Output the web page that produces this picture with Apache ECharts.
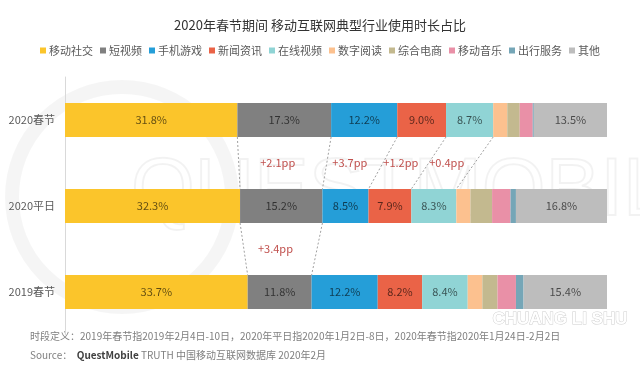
<!DOCTYPE html>
<html>
<head>
<meta charset="utf-8">
<script src="https://cdn.jsdelivr.net/npm/echarts@6/dist/echarts.min.js"></script>
<style>
html,body{margin:0;padding:0;background:#fff;}
#chart{width:640px;height:371px;}
</style>
</head>
<body>
<div id="chart"></div>
<script>
// ---- data ----
var categories = ['2020春节', '2020平日', '2019春节'];
var seriesNames = ['移动社交', '短视频', '手机游戏', '新闻资讯', '在线视频', '数字阅读', '综合电商', '移动音乐', '出行服务', '其他'];
var social   = [31.8, 32.3, 33.7];
var shortVid = [17.3, 15.2, 11.8];
var games    = [12.2, 8.5, 12.2];
var news     = [9.0, 7.9, 8.2];
var video    = [8.7, 8.3, 8.4];
var reading  = [2.6, 2.6, 2.7];
var ecommerce= [2.3, 4.0, 2.8];
var music    = [2.4, 3.4, 3.4];
var travel   = [0.2, 1.0, 1.4];
var others   = [13.5, 16.8, 15.4];
var labeled  = [true, true, true, true, true, false, false, false, false, true];
// connectors: [upper row, lower row, list of boundary indices (after n series)]
var connectors = [[0, 1, [1, 2, 3, 4, 5]], [1, 2, [1, 2]]];
// annotations: [upper row, segment index, text]
var annotations = [[0, 1, '+2.1pp'], [0, 2, '+3.7pp'], [0, 3, '+1.2pp'], [0, 4, '+0.4pp'], [1, 1, '+3.4pp']];

var colors = ['#FBC52B', '#808080', '#259ED8', '#EA6347', '#90D4D5', '#FCC18F', '#C3B98F', '#E990A7', '#75A6B7', '#BDBDBD'];
var values = [social, shortVid, games, news, video, reading, ecommerce, music, travel, others];

function cum(row, n) {
  var s = 0;
  for (var i = 0; i < n; i++) s += values[i][row];
  return s;
}

var connData = [];
connectors.forEach(function (c) {
  c[2].forEach(function (b) {
    connData.push([cum(c[0], b), cum(c[1], b), c[0]]);
  });
});
var annData = annotations.map(function (a) {
  var r = a[0], k = a[1];
  var mid = (cum(r, k) + cum(r + 1, k) + cum(r, k + 1) + cum(r + 1, k + 1)) / 4;
  return [mid, r, a[2]];
});

var series = seriesNames.map(function (name, i) {
  return {
    name: name,
    type: 'bar',
    stack: 'total',
    barWidth: 34,
    data: values[i],
    itemStyle: { color: colors[i] },
    label: {
      show: labeled[i],
      position: 'inside',
      fontSize: 11,
      color: 'rgba(0,0,0,0.62)',
      formatter: function (p) { return p.value.toFixed(1) + '%'; }
    },
    emphasis: { disabled: true }
  };
});

series.push({
  type: 'custom',
  name: 'connectors',
  data: connData,
  silent: true,
  z: 5,
  renderItem: function (params, api) {
    var row = api.value(2);
    var half = 17;
    var p1 = api.coord([api.value(0), row]);
    var p2 = api.coord([api.value(1), row + 1]);
    return {
      type: 'line',
      shape: { x1: p1[0], y1: p1[1] + half, x2: p2[0], y2: p2[1] - half },
      style: { stroke: '#a0a0a0', lineWidth: 1, lineDash: [2, 2] }
    };
  }
});
series.push({
  type: 'custom',
  name: 'annotations',
  data: annData,
  dimensions: ['x', 'row', 'text'],
  silent: true,
  z: 5,
  renderItem: function (params, api) {
    var row = api.value(1);
    var p = api.coord([api.value(0), row]);
    var band = api.size([0, 1])[1];
    return {
      type: 'text',
      x: p[0] - 5,
      y: p[1] + band / 2,
      style: {
        text: annData[params.dataIndex][2],
        fill: '#C0504D',
        fontSize: 11,
        fontFamily: 'Noto Sans CJK SC',
        align: 'center',
        verticalAlign: 'middle'
      }
    };
  }
});

var chart = echarts.init(document.getElementById('chart'));
chart.setOption({
  animation: false,
  textStyle: { fontFamily: 'Noto Sans CJK SC' },
  title: {
    text: '2020年春节期间 移动互联网典型行业使用时长占比',
    left: 'center',
    top: 14,
    textStyle: { fontSize: 13, fontWeight: 'normal', color: '#333333' }
  },
  legend: {
    data: seriesNames,
    top: 40,
    left: 'center',
    itemWidth: 6,
    itemHeight: 6,
    itemGap: 7,
    icon: 'rect',
    textStyle: { fontSize: 11, color: '#595959', padding: [0, 0, 0, -2] }
  },
  grid: { left: 65, right: 33, top: 77, bottom: 36 },
  xAxis: { type: 'value', min: 0, max: 100, show: false },
  yAxis: {
    type: 'category',
    data: categories,
    inverse: true,
    axisLine: { show: true, lineStyle: { color: '#d9d9d9' } },
    axisTick: { show: false },
    axisLabel: { fontSize: 11, color: '#595959', margin: 10 }
  },
  graphic: [
    {
      type: 'text', left: 130, top: 150, z: -10, silent: true,
      style: { text: 'QUESTMOBILE', fontSize: 82, fontFamily: 'Liberation Sans', fill: 'rgba(0,0,0,0)', stroke: 'rgba(0,0,0,0.05)', lineWidth: 2 }
    },
    {
      type: 'circle', left: 5, top: 80, z: -10, silent: true,
      shape: { r: 110 },
      style: { fill: 'rgba(0,0,0,0)', stroke: 'rgba(0,0,0,0.04)', lineWidth: 14 }
    },
    {
      type: 'text', left: 30, top: 331, silent: true,
      style: {
        text: '时段定义：2019年春节指2019年2月4日-10日，2020年平日指2020年1月2日-8日，2020年春节指2020年1月24日-2月2日',
        fontSize: 10, fill: '#7f7f7f', fontFamily: 'Noto Sans CJK SC'
      }
    },
    {
      type: 'text', left: 30, top: 350, silent: true,
      style: {
        text: '{a|Source：  }{b|QuestMobile}{a| TRUTH 中国移动互联网数据库 2020年2月}',
        fontFamily: 'Noto Sans CJK SC',
        rich: {
          a: { fontSize: 10, fill: '#7f7f7f', fontFamily: 'Noto Sans CJK SC' },
          b: { fontSize: 10, fill: '#404040', fontWeight: 'bold', fontFamily: 'Noto Sans CJK SC' }
        }
      }
    },
    {
      type: 'text', right: 12, top: 310, z: 100, silent: true,
      style: {
        text: 'CHUANG LI SHU', fontSize: 17, fontWeight: 'bold', fontFamily: 'Liberation Sans',
        fill: '#ffffff', stroke: '#cfcfcf', lineWidth: 1
      }
    }
  ],
  series: series
});
</script>
</body>
</html>
